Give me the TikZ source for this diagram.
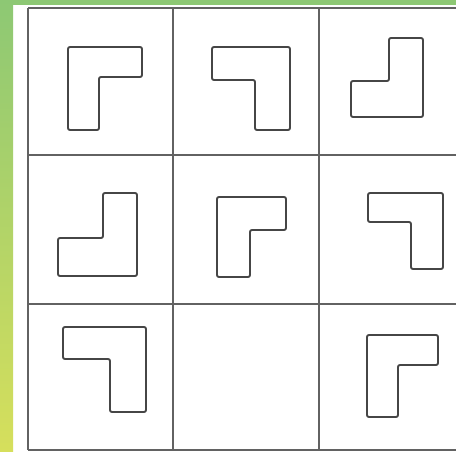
\documentclass[tikz,border=0pt]{standalone}
\definecolor{bggreen}{RGB}{141,200,116}
\definecolor{bgyellow}{RGB}{214,223,92}
\definecolor{ink}{RGB}{70,70,70}
\tikzset{
  gridline/.style={draw=ink!85, line width=1.6pt},
  lshape/.style={draw=ink, line width=1.9pt, rounded corners=2pt, line join=round}
}
\begin{document}
\begin{tikzpicture}
\useasboundingbox (0,0) rectangle (456pt,452pt);
\fill[white] (0,0) rectangle (456pt,452pt);
\fill[bggreen] (0,447pt) rectangle (456pt,452pt);
\shade[top color=bggreen, bottom color=bgyellow] (0,0) rectangle (13pt,452pt);
\begin{scope}[x=1pt, y=-1pt, shift={(0pt,452pt)}]
  % grid
  \foreach \yy in {8,155,304,450} \draw[gridline] (28,\yy) -- (456,\yy);
  \foreach \xx in {28,173,319} \draw[gridline] (\xx,8) -- (\xx,450);
  % row 1
  \draw[lshape] (68,47) -- (142,47) -- (142,77) -- (99,77) -- (99,130) -- (68,130) -- cycle;
  \draw[lshape] (212,47) -- (290,47) -- (290,130) -- (255,130) -- (255,80) -- (212,80) -- cycle;
  \draw[lshape] (389,38) -- (423,38) -- (423,117) -- (351,117) -- (351,81) -- (389,81) -- cycle;
  % row 2
  \draw[lshape] (103,193) -- (137,193) -- (137,276) -- (58,276) -- (58,238) -- (103,238) -- cycle;
  \draw[lshape] (217,197) -- (286,197) -- (286,230) -- (250,230) -- (250,277) -- (217,277) -- cycle;
  \draw[lshape] (368,193) -- (443,193) -- (443,269) -- (411,269) -- (411,222) -- (368,222) -- cycle;
  % row 3
  \draw[lshape] (63,327) -- (146,327) -- (146,412) -- (110,412) -- (110,359) -- (63,359) -- cycle;
  \draw[lshape] (367,335) -- (438,335) -- (438,365) -- (398,365) -- (398,417) -- (367,417) -- cycle;
\end{scope}
\end{tikzpicture}
\end{document}
